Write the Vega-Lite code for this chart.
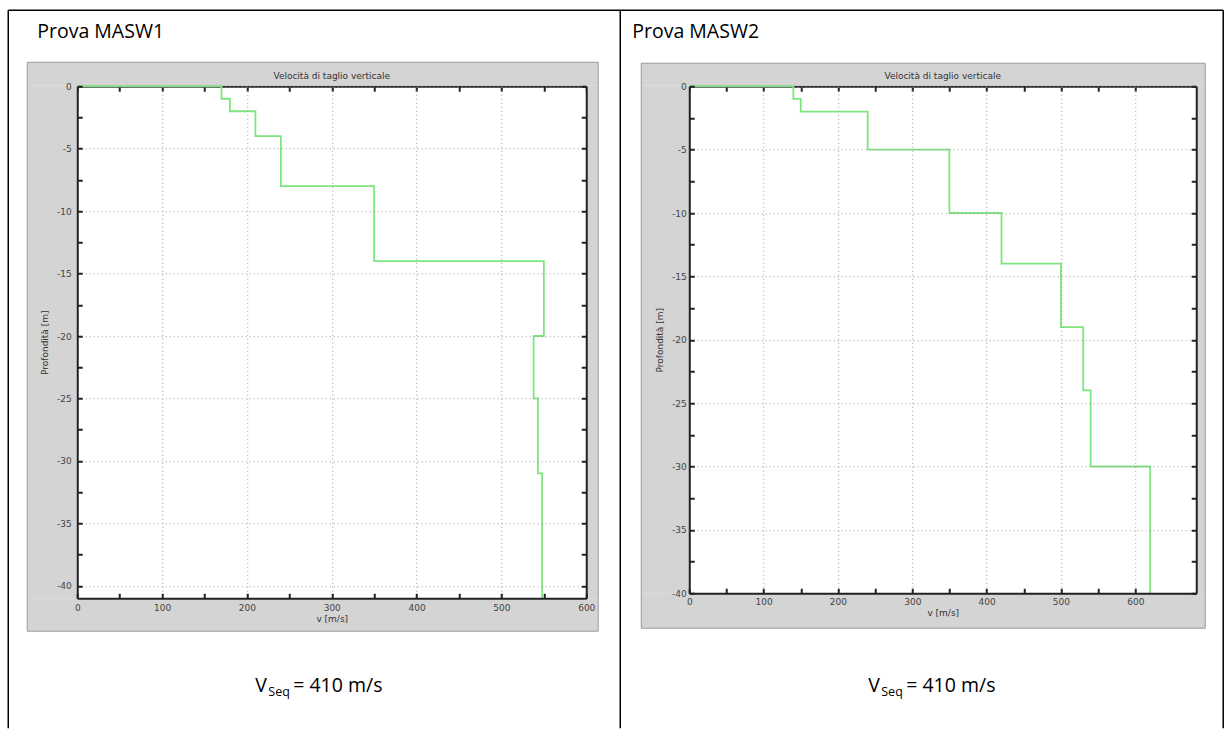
{
  "$schema": "https://vega.github.io/schema/vega-lite/v6.json",
  "background": "white",
  "autosize": {"type": "pad"},
  "padding": {"left": 7.25, "top": 9.25, "right": 0, "bottom": 0},
  "spacing": 103,
  "bounds": "flush",
  "config": {"view": {"stroke": null}},
  "hconcat": [
    {
      "width": 509,
      "height": 512,
      "view": {"fill": "white", "stroke": null},
      "resolve": {"axis": {"x": "independent", "y": "independent"}},
      "layer": [
        {"data": {"values": [{}]}, "mark": {"type": "rect", "fill": "#d4d4d4", "clip": false},
         "encoding": {"x": {"datum": -58.94, "type": "quantitative", "scale": {"domain": [0, 600], "nice": false, "zero": false}, "axis": null}, "x2": {"datum": 614.1}, "y": {"datum": 0.08, "type": "quantitative", "scale": {"domain": [-41, 0], "nice": false, "zero": false}, "axis": null}, "y2": {"datum": 1.92}}},
        {"data": {"values": [{}]}, "mark": {"type": "rect", "fill": "#d4d4d4", "clip": false},
         "encoding": {"x": {"datum": -58.94, "type": "quantitative", "scale": {"domain": [0, 600], "nice": false, "zero": false}, "axis": null}, "x2": {"datum": 614.1}, "y": {"datum": -43.64, "type": "quantitative", "scale": {"domain": [-41, 0], "nice": false, "zero": false}, "axis": null}, "y2": {"datum": -41}}},
        {"data": {"values": [{}]}, "mark": {"type": "rect", "fill": "#d4d4d4", "clip": false},
         "encoding": {"x": {"datum": -58.94, "type": "quantitative", "scale": {"domain": [0, 600], "nice": false, "zero": false}, "axis": null}, "x2": {"datum": 0}, "y": {"datum": -41, "type": "quantitative", "scale": {"domain": [-41, 0], "nice": false, "zero": false}, "axis": null}, "y2": {"datum": 0.08}}},
        {"data": {"values": [{}]}, "mark": {"type": "rect", "fill": "#d4d4d4", "clip": false},
         "encoding": {"x": {"datum": 600, "type": "quantitative", "scale": {"domain": [0, 600], "nice": false, "zero": false}, "axis": null}, "x2": {"datum": 614.1}, "y": {"datum": -41, "type": "quantitative", "scale": {"domain": [-41, 0], "nice": false, "zero": false}, "axis": null}, "y2": {"datum": 0.08}}},
        {"data": {"values": [{}]}, "mark": {"type": "rect", "fill": null, "fillOpacity": 0, "stroke": "#9a9a9a", "strokeWidth": 1, "clip": false},
         "encoding": {
           "x": {"datum": -58.94, "type": "quantitative", "scale": {"domain": [0, 600], "nice": false, "zero": false},
                 "axis": {"orient": "top", "values": [0, 50, 100, 150, 200, 250, 300, 350, 400, 450, 500, 550, 600], "labels": false, "ticks": true, "tickSize": -5, "tickWidth": 2, "tickColor": "#222", "domain": true, "domainColor": "#222", "domainWidth": 2, "grid": false, "title": null, "zindex": 0}},
           "x2": {"datum": 614.1},
           "y": {"datum": -43.64, "type": "quantitative", "scale": {"domain": [-41, 0], "nice": false, "zero": false},
                 "axis": {"orient": "right", "values": [-40, -37.5, -35, -32.5, -30, -27.5, -25, -22.5, -20, -17.5, -15, -12.5, -10, -7.5, -5, -2.5, 0], "labels": false, "ticks": true, "tickSize": -5, "tickWidth": 2, "tickColor": "#222", "domain": true, "domainColor": "#222", "domainWidth": 2, "grid": false, "title": null, "zindex": 1}},
           "y2": {"datum": 1.92}}},
        {"data": {"values": [
           {"v": 0, "z": 0}, {"v": 170, "z": -1}, {"v": 180, "z": -2}, {"v": 210, "z": -4}, {"v": 240, "z": -8},
           {"v": 350, "z": -14}, {"v": 550, "z": -20}, {"v": 538, "z": -25}, {"v": 543, "z": -31}, {"v": 548, "z": -41}]},
         "mark": {"type": "line", "interpolate": "step-after", "color": "#7ee67e", "strokeWidth": 1.8, "clip": false},
         "encoding": {
           "x": {"field": "v", "type": "quantitative", "scale": {"domain": [0, 600], "nice": false, "zero": false},
                 "axis": {"orient": "bottom", "values": [0, 50, 100, 150, 200, 250, 300, 350, 400, 450, 500, 550, 600],
                          "labelExpr": "datum.value % 100 === 0 ? datum.label : ''", "labelFont": "DejaVu Sans", "labelFontSize": 9, "labelColor": "#444", "labelPadding": 10, "labelFlush": false, "labelOverlap": false,
                          "ticks": true, "tickSize": -5, "tickWidth": 2, "tickColor": "#222", "domain": true, "domainColor": "#222", "domainWidth": 2,
                          "grid": true, "gridColor": "#9a9a9a", "gridDash": [1, 3], "gridWidth": 1, "gridOpacity": {"condition": {"test": "datum.value % 100 === 0", "value": 1}, "value": 0},
                          "title": "v [m/s]", "titleFont": "DejaVu Sans", "titleFontSize": 9, "titleFontWeight": "normal", "titleColor": "#333", "titlePadding": 2, "zindex": 1}},
           "y": {"field": "z", "type": "quantitative", "scale": {"domain": [-41, 0], "nice": false, "zero": false},
                 "axis": {"orient": "left", "values": [-40, -37.5, -35, -32.5, -30, -27.5, -25, -22.5, -20, -17.5, -15, -12.5, -10, -7.5, -5, -2.5, 0],
                          "labelExpr": "datum.value % 5 === 0 ? '' + datum.value : ''", "labelFont": "DejaVu Sans", "labelFontSize": 9, "labelColor": "#444", "labelPadding": 11, "labelFlush": false, "labelOverlap": false,
                          "ticks": true, "tickSize": -5, "tickWidth": 2, "tickColor": "#222", "domain": true, "domainColor": "#222", "domainWidth": 2,
                          "grid": true, "gridColor": "#9a9a9a", "gridDash": [1, 3], "gridWidth": 1, "gridOpacity": {"condition": {"test": "datum.value % 5 === 0", "value": 1}, "value": 0},
                          "title": "Profondità [m]", "titleFont": "DejaVu Sans", "titleFontSize": 9, "titleFontWeight": "normal", "titleColor": "#333", "titlePadding": 7, "zindex": 1}},
           "order": {"field": "z", "sort": "descending"}}},
        {"data": {"values": [{}]}, "mark": {"type": "text", "text": "Velocità di taglio verticale", "align": "center", "baseline": "alphabetic", "font": "DejaVu Sans", "fontSize": 9, "color": "#333", "clip": false},
         "encoding": {"x": {"datum": 300, "type": "quantitative", "scale": {"domain": [0, 600], "nice": false, "zero": false}, "axis": null}, "y": {"datum": 0.56, "type": "quantitative", "scale": {"domain": [-41, 0], "nice": false, "zero": false}, "axis": null}}},
        {"data": {"values": [{}]}, "mark": {"type": "text", "text": "Prova MASW1", "align": "left", "baseline": "alphabetic", "font": "Open Sans", "fontSize": 19.5, "color": "#000", "clip": false},
         "encoding": {"x": {"datum": -47.15, "type": "quantitative", "scale": {"domain": [0, 600], "nice": false, "zero": false}, "axis": null}, "y": {"datum": 3.844, "type": "quantitative", "scale": {"domain": [-41, 0], "nice": false, "zero": false}, "axis": null}}},
        {"data": {"values": [{}]}, "mark": {"type": "text", "text": "V", "align": "left", "baseline": "alphabetic", "font": "Open Sans", "fontSize": 19.5, "color": "#000", "clip": false},
         "encoding": {"x": {"datum": 209.8, "type": "quantitative", "scale": {"domain": [0, 600], "nice": false, "zero": false}, "axis": null}, "y": {"datum": -48.53, "type": "quantitative", "scale": {"domain": [-41, 0], "nice": false, "zero": false}, "axis": null}}},
        {"data": {"values": [{}]}, "mark": {"type": "text", "text": "Seq", "align": "left", "baseline": "alphabetic", "font": "Open Sans", "fontSize": 12.5, "color": "#000", "clip": false},
         "encoding": {"x": {"datum": 225.2, "type": "quantitative", "scale": {"domain": [0, 600], "nice": false, "zero": false}, "axis": null}, "y": {"datum": -48.85, "type": "quantitative", "scale": {"domain": [-41, 0], "nice": false, "zero": false}, "axis": null}}},
        {"data": {"values": [{}]}, "mark": {"type": "text", "text": "= 410 m/s", "align": "left", "baseline": "alphabetic", "font": "Open Sans", "fontSize": 19.5, "color": "#000", "clip": false},
         "encoding": {"x": {"datum": 254.6, "type": "quantitative", "scale": {"domain": [0, 600], "nice": false, "zero": false}, "axis": null}, "y": {"datum": -48.53, "type": "quantitative", "scale": {"domain": [-41, 0], "nice": false, "zero": false}, "axis": null}}},
        {"data": {"values": [{}]}, "mark": {"type": "rule", "color": "#000", "strokeWidth": 1.5, "clip": false},
         "encoding": {"x": {"datum": -81.34, "type": "quantitative", "scale": {"domain": [0, 600], "nice": false, "zero": false}, "axis": null}, "y": {"datum": 6.086, "type": "quantitative", "scale": {"domain": [-41, 0], "nice": false, "zero": false}, "axis": null}, "y2": {"datum": -51.41}}},
        {"data": {"values": [{}]}, "mark": {"type": "rule", "color": "#000", "strokeWidth": 1.5, "clip": false},
         "encoding": {"x": {"datum": -81.34, "type": "quantitative", "scale": {"domain": [0, 600], "nice": false, "zero": false}, "axis": null}, "x2": {"datum": 640.1}, "y": {"datum": 6.086, "type": "quantitative", "scale": {"domain": [-41, 0], "nice": false, "zero": false}, "axis": null}}},
        {"data": {"values": [{}]}, "mark": {"type": "rule", "color": "#000", "strokeWidth": 1.5, "clip": false},
         "encoding": {"x": {"datum": 640.1, "type": "quantitative", "scale": {"domain": [0, 600], "nice": false, "zero": false}, "axis": null}, "y": {"datum": 6.086, "type": "quantitative", "scale": {"domain": [-41, 0], "nice": false, "zero": false}, "axis": null}, "y2": {"datum": -51.41}}}
      ]
    },
    {
      "width": 507,
      "height": 507,
      "view": {"fill": "white", "stroke": null},
      "resolve": {"axis": {"x": "independent", "y": "independent"}},
      "layer": [
        {"data": {"values": [{}]}, "mark": {"type": "rect", "fill": "#d4d4d4", "clip": false},
         "encoding": {"x": {"datum": -64.57, "type": "quantitative", "scale": {"domain": [0, 682], "nice": false, "zero": false}, "axis": null}, "x2": {"datum": 694.1}, "y": {"datum": 0.079, "type": "quantitative", "scale": {"domain": [-40, 0], "nice": false, "zero": false}, "axis": null}, "y2": {"datum": 1.815}}},
        {"data": {"values": [{}]}, "mark": {"type": "rect", "fill": "#d4d4d4", "clip": false},
         "encoding": {"x": {"datum": -64.57, "type": "quantitative", "scale": {"domain": [0, 682], "nice": false, "zero": false}, "axis": null}, "x2": {"datum": 694.1}, "y": {"datum": -42.76, "type": "quantitative", "scale": {"domain": [-40, 0], "nice": false, "zero": false}, "axis": null}, "y2": {"datum": -40}}},
        {"data": {"values": [{}]}, "mark": {"type": "rect", "fill": "#d4d4d4", "clip": false},
         "encoding": {"x": {"datum": -64.57, "type": "quantitative", "scale": {"domain": [0, 682], "nice": false, "zero": false}, "axis": null}, "x2": {"datum": 0}, "y": {"datum": -40, "type": "quantitative", "scale": {"domain": [-40, 0], "nice": false, "zero": false}, "axis": null}, "y2": {"datum": 0.079}}},
        {"data": {"values": [{}]}, "mark": {"type": "rect", "fill": "#d4d4d4", "clip": false},
         "encoding": {"x": {"datum": 682, "type": "quantitative", "scale": {"domain": [0, 682], "nice": false, "zero": false}, "axis": null}, "x2": {"datum": 694.1}, "y": {"datum": -40, "type": "quantitative", "scale": {"domain": [-40, 0], "nice": false, "zero": false}, "axis": null}, "y2": {"datum": 0.079}}},
        {"data": {"values": [{}]}, "mark": {"type": "rect", "fill": null, "fillOpacity": 0, "stroke": "#9a9a9a", "strokeWidth": 1, "clip": false},
         "encoding": {
           "x": {"datum": -64.57, "type": "quantitative", "scale": {"domain": [0, 682], "nice": false, "zero": false},
                 "axis": {"orient": "top", "values": [0, 50, 100, 150, 200, 250, 300, 350, 400, 450, 500, 550, 600], "labels": false, "ticks": true, "tickSize": -5, "tickWidth": 2, "tickColor": "#222", "domain": true, "domainColor": "#222", "domainWidth": 2, "grid": false, "title": null, "zindex": 0}},
           "x2": {"datum": 694.1},
           "y": {"datum": -42.76, "type": "quantitative", "scale": {"domain": [-40, 0], "nice": false, "zero": false},
                 "axis": {"orient": "right", "values": [-40, -37.5, -35, -32.5, -30, -27.5, -25, -22.5, -20, -17.5, -15, -12.5, -10, -7.5, -5, -2.5, 0], "labels": false, "ticks": true, "tickSize": -5, "tickWidth": 2, "tickColor": "#222", "domain": true, "domainColor": "#222", "domainWidth": 2, "grid": false, "title": null, "zindex": 1}},
           "y2": {"datum": 1.815}}},
        {"data": {"values": [
           {"v": 0, "z": 0}, {"v": 140, "z": -1}, {"v": 150, "z": -2}, {"v": 240, "z": -5}, {"v": 350, "z": -10},
           {"v": 420, "z": -14}, {"v": 500, "z": -19}, {"v": 530, "z": -24}, {"v": 540, "z": -30}, {"v": 620, "z": -40}]},
         "mark": {"type": "line", "interpolate": "step-after", "color": "#7ee67e", "strokeWidth": 1.8, "clip": false},
         "encoding": {
           "x": {"field": "v", "type": "quantitative", "scale": {"domain": [0, 682], "nice": false, "zero": false},
                 "axis": {"orient": "bottom", "values": [0, 50, 100, 150, 200, 250, 300, 350, 400, 450, 500, 550, 600],
                          "labelExpr": "datum.value % 100 === 0 ? datum.label : ''", "labelFont": "DejaVu Sans", "labelFontSize": 9, "labelColor": "#444", "labelPadding": 9, "labelFlush": false, "labelOverlap": false,
                          "ticks": true, "tickSize": -5, "tickWidth": 2, "tickColor": "#222", "domain": true, "domainColor": "#222", "domainWidth": 2,
                          "grid": true, "gridColor": "#9a9a9a", "gridDash": [1, 3], "gridWidth": 1, "gridOpacity": {"condition": {"test": "datum.value % 100 === 0", "value": 1}, "value": 0},
                          "title": "v [m/s]", "titleFont": "DejaVu Sans", "titleFontSize": 9, "titleFontWeight": "normal", "titleColor": "#333", "titlePadding": 2, "zindex": 1}},
           "y": {"field": "z", "type": "quantitative", "scale": {"domain": [-40, 0], "nice": false, "zero": false},
                 "axis": {"orient": "left", "values": [-40, -37.5, -35, -32.5, -30, -27.5, -25, -22.5, -20, -17.5, -15, -12.5, -10, -7.5, -5, -2.5, 0],
                          "labelExpr": "datum.value % 5 === 0 ? '' + datum.value : ''", "labelFont": "DejaVu Sans", "labelFontSize": 9, "labelColor": "#444", "labelPadding": 8, "labelFlush": false, "labelOverlap": false,
                          "ticks": true, "tickSize": -5, "tickWidth": 2, "tickColor": "#222", "domain": true, "domainColor": "#222", "domainWidth": 2,
                          "grid": true, "gridColor": "#9a9a9a", "gridDash": [1, 3], "gridWidth": 1, "gridOpacity": {"condition": {"test": "datum.value % 5 === 0", "value": 1}, "value": 0},
                          "title": "Profondità [m]", "titleFont": "DejaVu Sans", "titleFontSize": 9, "titleFontWeight": "normal", "titleColor": "#333", "titlePadding": 7, "zindex": 1}},
           "order": {"field": "z", "sort": "descending"}}},
        {"data": {"values": [{}]}, "mark": {"type": "text", "text": "Velocità di taglio verticale", "align": "center", "baseline": "alphabetic", "font": "DejaVu Sans", "fontSize": 9, "color": "#333", "clip": false},
         "encoding": {"x": {"datum": 341, "type": "quantitative", "scale": {"domain": [0, 682], "nice": false, "zero": false}, "axis": null}, "y": {"datum": 0.55, "type": "quantitative", "scale": {"domain": [-40, 0], "nice": false, "zero": false}, "axis": null}}},
        {"data": {"values": [{}]}, "mark": {"type": "text", "text": "Prova MASW2", "align": "left", "baseline": "alphabetic", "font": "Open Sans", "fontSize": 19.5, "color": "#000", "clip": false},
         "encoding": {"x": {"datum": -76.67, "type": "quantitative", "scale": {"domain": [0, 682], "nice": false, "zero": false}, "axis": null}, "y": {"datum": 3.787, "type": "quantitative", "scale": {"domain": [-40, 0], "nice": false, "zero": false}, "axis": null}}},
        {"data": {"values": [{}]}, "mark": {"type": "text", "text": "V", "align": "left", "baseline": "alphabetic", "font": "Open Sans", "fontSize": 19.5, "color": "#000", "clip": false},
         "encoding": {"x": {"datum": 240.8, "type": "quantitative", "scale": {"domain": [0, 682], "nice": false, "zero": false}, "axis": null}, "y": {"datum": -47.81, "type": "quantitative", "scale": {"domain": [-40, 0], "nice": false, "zero": false}, "axis": null}}},
        {"data": {"values": [{}]}, "mark": {"type": "text", "text": "Seq", "align": "left", "baseline": "alphabetic", "font": "Open Sans", "fontSize": 12.5, "color": "#000", "clip": false},
         "encoding": {"x": {"datum": 258.3, "type": "quantitative", "scale": {"domain": [0, 682], "nice": false, "zero": false}, "axis": null}, "y": {"datum": -48.13, "type": "quantitative", "scale": {"domain": [-40, 0], "nice": false, "zero": false}, "axis": null}}},
        {"data": {"values": [{}]}, "mark": {"type": "text", "text": "= 410 m/s", "align": "left", "baseline": "alphabetic", "font": "Open Sans", "fontSize": 19.5, "color": "#000", "clip": false},
         "encoding": {"x": {"datum": 291.9, "type": "quantitative", "scale": {"domain": [0, 682], "nice": false, "zero": false}, "axis": null}, "y": {"datum": -47.81, "type": "quantitative", "scale": {"domain": [-40, 0], "nice": false, "zero": false}, "axis": null}}},
        {"data": {"values": [{}]}, "mark": {"type": "rule", "color": "#000", "strokeWidth": 1.5, "clip": false},
         "encoding": {"x": {"datum": -92.8, "type": "quantitative", "scale": {"domain": [0, 682], "nice": false, "zero": false}, "axis": null}, "x2": {"datum": 718.3}, "y": {"datum": 5.996, "type": "quantitative", "scale": {"domain": [-40, 0], "nice": false, "zero": false}, "axis": null}}},
        {"data": {"values": [{}]}, "mark": {"type": "rule", "color": "#000", "strokeWidth": 1.5, "clip": false},
         "encoding": {"x": {"datum": 718.3, "type": "quantitative", "scale": {"domain": [0, 682], "nice": false, "zero": false}, "axis": null}, "y": {"datum": 5.996, "type": "quantitative", "scale": {"domain": [-40, 0], "nice": false, "zero": false}, "axis": null}, "y2": {"datum": -50.65}}}
      ]
    }
  ]
}
